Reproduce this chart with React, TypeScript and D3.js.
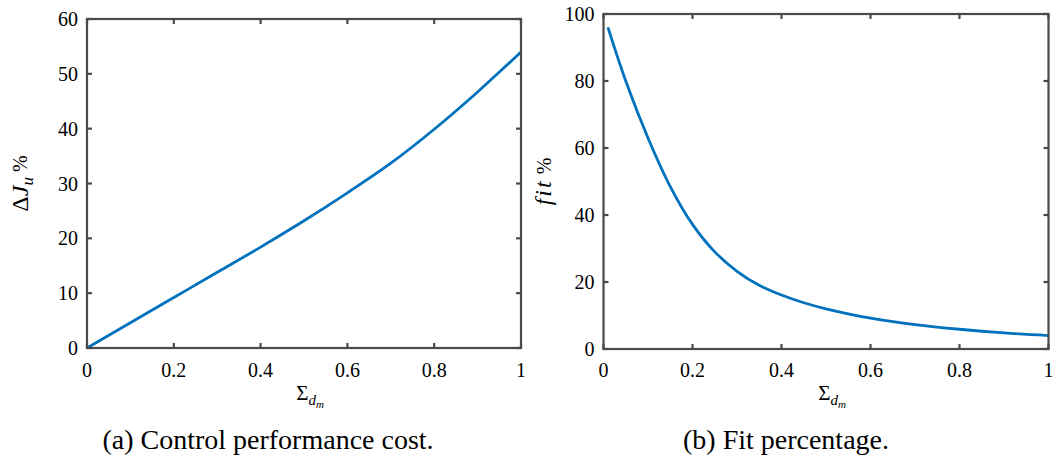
import React, { useEffect, useRef } from "react";
import * as d3 from "d3";

// Panel (a): control performance cost vs Sigma_dm
const costX = [0, 0.1, 0.2, 0.3, 0.4, 0.5, 0.6, 0.7, 0.8, 0.9, 1.0];
const costY = [0, 4.6, 9.2, 13.8, 18.4, 23.2, 28.3, 33.7, 39.9, 46.7, 54.0];

// Panel (b): fit percentage vs Sigma_dm
const fitX = [0.01, 0.05, 0.1, 0.15, 0.2, 0.25, 0.3, 0.35, 0.4, 0.45, 0.5, 0.6, 0.7, 0.8, 0.9, 1.0];
const fitY = [96, 80, 63, 48.5, 37.2, 29, 23.2, 19, 16.1, 13.8, 12, 9.2, 7.3, 5.9, 4.8, 4.0];

const xTicks = [0, 0.2, 0.4, 0.6, 0.8, 1];
const costTicks = [0, 10, 20, 30, 40, 50, 60];
const fitTicks = [0, 20, 40, 60, 80, 100];

const FONT = "'Times New Roman', Times, 'Liberation Serif', serif";
const AXIS = "#4a4a4a";
const LINE = "#0072BD";

export default function App() {
  const svgRef = useRef<SVGSVGElement | null>(null);

  useEffect(() => {
    document.body.style.margin = "0";
    const svg = d3.select(svgRef.current);
    svg.selectAll("*").remove();

    const panels = [
      {
        left: 87, right: 521, top: 19, bottom: 348,
        yMax: 60, yTicks: costTicks, xs: costX, ys: costY,
        ylab: "a", ylabX: 28, caption: "(a) Control performance cost.", capX: 268,
      },
      {
        left: 603.5, right: 1048.5, top: 14, bottom: 349,
        yMax: 100, yTicks: fitTicks, xs: fitX, ys: fitY,
        ylab: "b", ylabX: 551, caption: "(b) Fit percentage.", capX: 786,
      },
    ];

    panels.forEach((p) => {
      const x = d3.scaleLinear().domain([0, 1]).range([p.left, p.right]);
      const y = d3.scaleLinear().domain([0, p.yMax]).range([p.bottom, p.top]);
      const g = svg.append("g").attr("font-family", FONT);

      // data line
      const pts = p.xs.map((v, i) => [v, p.ys[i]] as [number, number]);
      g.append("path")
        .datum(pts)
        .attr("fill", "none")
        .attr("stroke", LINE)
        .attr("stroke-width", 2.8)
        .attr("d", d3.line<[number, number]>()
          .x(d => x(d[0]))
          .y(d => y(d[1]))
          .curve(d3.curveCatmullRom.alpha(0.5)));

      // box
      g.append("rect")
        .attr("x", p.left).attr("y", p.top)
        .attr("width", p.right - p.left).attr("height", p.bottom - p.top)
        .attr("fill", "none").attr("stroke", AXIS).attr("stroke-width", 2.2);

      // x ticks, inward on bottom and top
      xTicks.forEach((t) => {
        g.append("line").attr("x1", x(t)).attr("x2", x(t))
          .attr("y1", p.bottom).attr("y2", p.bottom - 5)
          .attr("stroke", AXIS).attr("stroke-width", 2.2);
        g.append("line").attr("x1", x(t)).attr("x2", x(t))
          .attr("y1", p.top).attr("y2", p.top + 5)
          .attr("stroke", AXIS).attr("stroke-width", 2.2);
        g.append("text")
          .attr("x", x(t)).attr("y", 377)
          .attr("text-anchor", "middle")
          .attr("font-size", 20)
          .text(String(t));
      });

      // y ticks, inward on left and right
      p.yTicks.forEach((t) => {
        g.append("line").attr("x1", p.left).attr("x2", p.left + 5)
          .attr("y1", y(t)).attr("y2", y(t))
          .attr("stroke", AXIS).attr("stroke-width", 2.2);
        g.append("line").attr("x1", p.right).attr("x2", p.right - 5)
          .attr("y1", y(t)).attr("y2", y(t))
          .attr("stroke", AXIS).attr("stroke-width", 2.2);
        g.append("text")
          .attr("x", p.left - 9).attr("y", y(t) + 7)
          .attr("text-anchor", "end")
          .attr("font-size", 20)
          .text(String(t));
      });

      // x label: Sigma_{d_m}
      const xl = g.append("text")
        .attr("x", (p.left + p.right) / 2 + 6).attr("y", 400)
        .attr("text-anchor", "middle")
        .attr("font-size", 21);
      xl.append("tspan").text("Σ");
      xl.append("tspan").attr("font-style", "italic").attr("font-size", 15).attr("dy", 5).text("d");
      xl.append("tspan").attr("font-style", "italic").attr("font-size", 11).attr("dy", 3).text("m");

      // y label
      const cy = (p.top + p.bottom) / 2;
      const yl = g.append("text")
        .attr("transform", `translate(${p.ylabX},${cy}) rotate(-90)`)
        .attr("text-anchor", "middle")
        .attr("font-size", 24);
      if (p.ylab === "a") {
        yl.append("tspan").text("Δ");
        yl.append("tspan").attr("font-style", "italic").text("J");
        yl.append("tspan").attr("font-style", "italic").attr("font-size", 17).attr("dy", 5).text("u");
        yl.append("tspan").attr("font-size", 20).attr("dy", -6).text(" %");
      } else {
        yl.append("tspan").attr("font-style", "italic").attr("letter-spacing", 2).text("fit");
        yl.append("tspan").attr("font-size", 20).text(" %");
      }

      // caption
      g.append("text")
        .attr("x", p.capX).attr("y", 449)
        .attr("text-anchor", "middle")
        .attr("font-size", 28)
        .text(p.caption);
    });
  }, []);

  return <svg ref={svgRef} width={1058} height={462} style={{ display: "block", background: "#fff" }} />;
}
